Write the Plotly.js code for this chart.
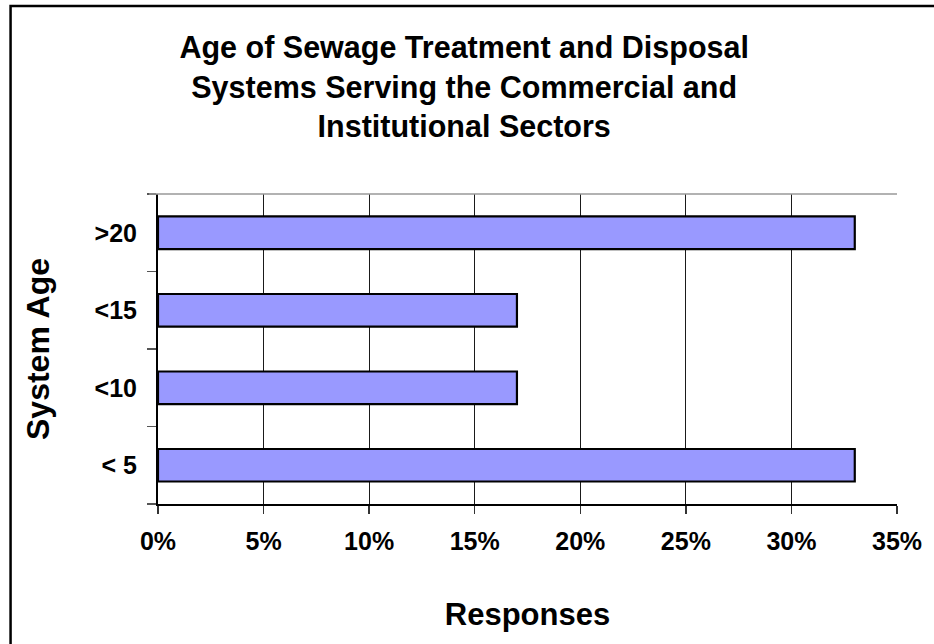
<!DOCTYPE html>
<html>
<head>
<meta charset="utf-8">
<script src="https://cdn.plot.ly/plotly-3.0.1.min.js"></script>
<style>
  html, body { margin: 0; padding: 0; background: #ffffff; }
  #chart { width: 934px; height: 644px; }
</style>
</head>
<body>
<div id="chart"></div>
<script>
// System age categories (bottom to top) and share of responses, in percent
const ageCategories = ['< 5', '<10', '<15', '>20'];
const responseShares = [33, 17, 17, 33];
const percentTicks = [0, 5, 10, 15, 20, 25, 30, 35];
const percentTickLabels = ['0%', '5%', '10%', '15%', '20%', '25%', '30%', '35%'];

const FONT = 'Liberation Sans, Arial, sans-serif';

const trace = {
  type: 'bar',
  orientation: 'h',
  x: responseShares,
  y: ageCategories,
  marker: { color: '#9999ff', line: { color: '#000000', width: 2.2 } },
  hoverinfo: 'x+y'
};

const layout = {
  width: 934,
  height: 644,
  paper_bgcolor: '#ffffff',
  plot_bgcolor: '#ffffff',
  margin: { l: 157.5, r: 37, t: 194, b: 140, pad: 0 },
  showlegend: false,
  bargap: 0.58,
  font: { family: FONT, color: '#000000' },
  title: {
    text: '<b>Age of Sewage Treatment and Disposal<br>Systems Serving the Commercial and<br>Institutional Sectors</b>',
    font: { family: FONT, size: 30.5, color: '#000000' },
    x: 0.497,
    xanchor: 'center',
    xref: 'container',
    y: 0.91,
    yanchor: 'top',
    yref: 'container'
  },
  xaxis: {
    range: [0, 35],
    tickvals: percentTicks,
    ticktext: percentTickLabels,
    showgrid: true,
    gridcolor: '#1a1a1a',
    gridwidth: 1,
    zeroline: false,
    showline: true,
    linecolor: '#000000',
    linewidth: 2,
    ticks: 'outside',
    ticklen: 8,
    tickwidth: 1.5,
    tickcolor: '#333333',
    ticklabelstandoff: 6,
    tickfont: { family: FONT, size: 25, color: '#000000', weight: 'bold' },
    title: {
      text: '<b>Responses</b>',
      font: { family: FONT, size: 31, color: '#000000' },
      standoff: 49
    },
    fixedrange: true
  },
  yaxis: {
    type: 'category',
    categoryorder: 'array',
    categoryarray: ageCategories,
    range: [-0.5, 3.5],
    showgrid: false,
    zeroline: false,
    showline: true,
    linecolor: '#000000',
    linewidth: 2,
    ticks: 'outside',
    tickson: 'boundaries',
    ticklen: 9,
    tickwidth: 1.5,
    tickcolor: '#555555',
    ticklabelstandoff: 14,
    tickfont: { family: FONT, size: 25, color: '#000000', weight: 'bold' },
    title: {
      text: '<b>System Age</b>',
      font: { family: FONT, size: 32, color: '#000000' },
      standoff: 35
    },
    fixedrange: true
  },
  shapes: [
    // light top edge of the plotting area
    { type: 'line', xref: 'paper', yref: 'paper', x0: -0.012, x1: 1, y0: 1, y1: 1,
      line: { color: '#999999', width: 1.5 }, layer: 'above' },
    // chart frame (top and left edges)
    { type: 'path', xref: 'paper', yref: 'paper',
      path: 'M -0.1995,-0.46 L -0.1995,1.6065 L 1.06,1.6065',
      line: { color: '#000000', width: 2.5 }, layer: 'above' }
  ]
};

Plotly.newPlot('chart', [trace], layout, { displayModeBar: false, staticPlot: true });
</script>
</body>
</html>
